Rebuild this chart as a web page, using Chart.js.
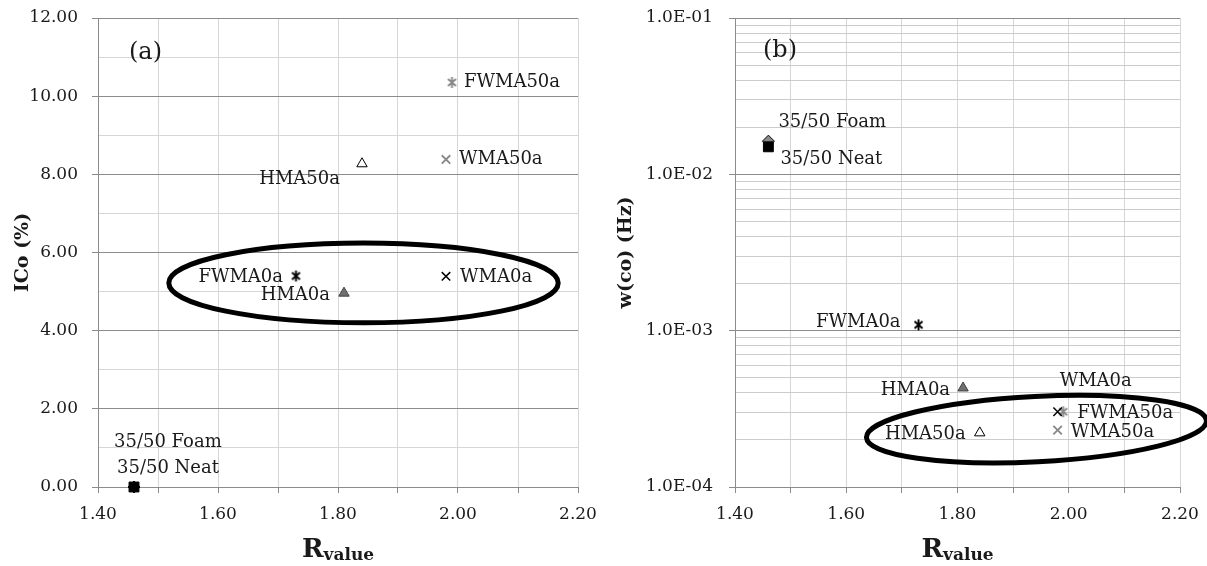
<!DOCTYPE html>
<html>
<head>
<meta charset="utf-8">
<script src="https://cdn.jsdelivr.net/npm/chart.js"></script>
<style>
    html, body { margin: 0; padding: 0; background: #fff; }
    #wrap { position: relative; width: 1207px; height: 566px; }
    #chartA { position: absolute; left: 0; top: 0; }
    #chartB { position: absolute; left: 603px; top: 0; }
</style>
</head>
<body>
<div id="wrap">
    <canvas id="chartA" width="603" height="566"></canvas>
    <canvas id="chartB" width="604" height="566"></canvas>
</div>
<script>
// values
const mixes = ['35/50 Neat', '35/50 Foam', 'HMA0a', 'HMA50a', 'WMA0a', 'WMA50a', 'FWMA0a', 'FWMA50a'];
const rValue = [1.46, 1.46, 1.81, 1.84, 1.98, 1.98, 1.73, 1.99];
const icoPct = [0, 0, 4.96, 8.27, 5.39, 8.38, 5.40, 10.35];
const wcoHz = [0.0150, 0.0163, 0.00043, 0.000222, 0.000303, 0.000231, 0.00109, 0.000303];

const xTicks = [1.40, 1.60, 1.80, 2.00, 2.20];
const icoTicks = [0, 2, 4, 6, 8, 10, 12];
const wcoTicks = [1e-4, 1e-3, 1e-2, 1e-1];

const serif = '"DejaVu Serif", "Liberation Serif", serif';
const ink = '#1a1a1a';
const majorGrid = '#8c8c8c';
const minorGrid = '#d6d6d6';

function starMark(color) {
    const c = document.createElement('canvas');
    c.width = 13;
    c.height = 13;
    const g = c.getContext('2d');
    g.strokeStyle = color;
    g.lineWidth = 1.9;
    g.beginPath();
    g.moveTo(2.5, 3); g.lineTo(10.5, 10);
    g.moveTo(10.5, 3); g.lineTo(2.5, 10);
    g.moveTo(6.5, 1); g.lineTo(6.5, 12);
    g.stroke();
    return c;
}

const markers = {
    '35/50 Neat': { pointStyle: 'rect', pointRadius: 7, pointBackgroundColor: '#000', pointBorderColor: '#000' },
    '35/50 Foam': { pointStyle: 'rectRot', pointRadius: 6, pointBackgroundColor: '#8a8a8a', pointBorderColor: '#000' },
    'HMA0a': { pointStyle: 'triangle', pointRadius: 6, pointBackgroundColor: '#707070', pointBorderColor: '#404040' },
    'HMA50a': { pointStyle: 'triangle', pointRadius: 6, pointBackgroundColor: '#fff', pointBorderColor: '#000' },
    'WMA0a': { pointStyle: 'crossRot', pointRadius: 6, pointBackgroundColor: '#000', pointBorderColor: '#000', pointBorderWidth: 1.5 },
    'WMA50a': { pointStyle: 'crossRot', pointRadius: 6, pointBackgroundColor: '#888', pointBorderColor: '#888', pointBorderWidth: 1.8 },
    'FWMA0a': { pointStyle: starMark('#000') },
    'FWMA50a': { pointStyle: starMark('#888') }
};

function sci(v) {
    const e = Math.round(Math.log10(v));
    const m = v / Math.pow(10, e);
    return m.toFixed(1) + 'E' + (e < 0 ? '-' : '+') + String(Math.abs(e)).padStart(2, '0');
}

function buildSets(yValues) {
    return mixes.map((name, i) => Object.assign({
        label: name,
        data: [{ x: rValue[i], y: yValues[i] }],
        clip: false,
        pointBorderWidth: 1,
        pointRadius: 6
    }, markers[name]));
}

// labels, ellipse, panel letter and R(value) title
function overlay(cfg) {
    return {
        id: 'overlay',
        afterDatasetsDraw(chart) {
            const ctx = chart.ctx;
            const area = chart.chartArea;
            const sx = chart.scales.x, sy = chart.scales.y;
            ctx.save();

            ctx.font = '18px ' + serif;
            ctx.fillStyle = ink;
            ctx.textBaseline = 'middle';
            chart.data.datasets.forEach((ds, i) => {
                const p = chart.getDatasetMeta(i).data[0];
                const t = cfg.place[ds.label];
                ctx.textAlign = t[2];
                ctx.fillText(ds.label, p.x + t[0], p.y + t[1]);
            });

            const e = cfg.ellipse;
            const x0 = sx.getPixelForValue(e.x0), x1 = sx.getPixelForValue(e.x1);
            const y0 = sy.getPixelForValue(e.y0), y1 = sy.getPixelForValue(e.y1);
            ctx.translate((x0 + x1) / 2, (y0 + y1) / 2);
            ctx.rotate(e.rot);
            ctx.beginPath();
            ctx.ellipse(0, 0, Math.abs(x1 - x0) / 2, Math.abs(y1 - y0) / 2, 0, 0, Math.PI * 2);
            ctx.lineWidth = 5;
            ctx.strokeStyle = '#000';
            ctx.stroke();
            ctx.setTransform(1, 0, 0, 1, 0, 0);

            ctx.font = '24px ' + serif;
            ctx.textAlign = 'left';
            ctx.fillText(cfg.letter, area.left + cfg.letterAt[0], area.top + cfg.letterAt[1]);

            ctx.textBaseline = 'alphabetic';
            ctx.font = 'bold 26px ' + serif;
            const wR = ctx.measureText('R').width;
            ctx.font = 'bold 17px ' + serif;
            const wV = ctx.measureText('value').width;
            const start = (area.left + area.right) / 2 - (wR + wV) / 2;
            ctx.font = 'bold 26px ' + serif;
            ctx.fillText('R', start, area.bottom + 70);
            ctx.font = 'bold 17px ' + serif;
            ctx.fillText('value', start + wR, area.bottom + 73);
            ctx.restore();
        }
    };
}

function xScale() {
    return {
        type: 'linear',
        min: 1.4,
        max: 2.2,
        afterFit: s => {
            s.height = 79;
            s.paddingLeft = 0;
            s.paddingRight = 0;
        },
        ticks: {
            stepSize: 0.1,
            padding: 11,
            color: ink,
            font: { family: serif, size: 17 },
            callback: v => xTicks.some(t => Math.abs(t - v) < 1e-6) ? v.toFixed(2) : ''
        },
        grid: { color: minorGrid, tickColor: majorGrid, tickLength: 6 },
        border: { color: majorGrid },
        title: { display: false }
    };
}

function fitY(w) {
    return s => {
        s.width = w;
        s.paddingTop = 0;
        s.paddingBottom = 0;
    };
}

const chartA = new Chart(document.getElementById('chartA'), {
    type: 'scatter',
    data: { datasets: buildSets(icoPct) },
    options: {
        responsive: false,
        animation: false,
        layout: { padding: { top: 18, right: 25, bottom: 0, left: 0 } },
        plugins: { legend: { display: false }, tooltip: { enabled: false } },
        scales: {
            x: xScale(),
            y: {
                type: 'linear',
                min: 0,
                max: 12,
                afterFit: fitY(98),
                ticks: {
                    stepSize: 1,
                    padding: 14,
                    color: ink,
                    font: { family: serif, size: 17 },
                    callback: v => icoTicks.includes(v) ? v.toFixed(2) : ''
                },
                grid: {
                    color: c => (c.tick && icoTicks.includes(c.tick.value)) ? majorGrid : minorGrid,
                    tickColor: c => (c.tick && icoTicks.includes(c.tick.value)) ? majorGrid : 'rgba(0,0,0,0)',
                    tickLength: 6
                },
                border: { color: majorGrid },
                title: {
                    display: true,
                    text: 'ICo (%)',
                    color: ink,
                    padding: { top: 12, bottom: 0 },
                    font: { family: serif, size: 19, weight: 'bold' }
                }
            }
        }
    },
    plugins: [overlay({
        letter: '(a)',
        letterAt: [31, 35],
        ellipse: { x0: 1.518, x1: 2.167, y0: 4.20, y1: 6.24, rot: 0 },
        place: {
            '35/50 Neat': [-17, -19, 'left'],
            '35/50 Foam': [-20, -45, 'left'],
            'HMA0a': [-14, 2, 'right'],
            'HMA50a': [-22, 16, 'right'],
            'WMA0a': [14, 1, 'left'],
            'WMA50a': [13, 0, 'left'],
            'FWMA0a': [-13, 1, 'right'],
            'FWMA50a': [12, 0, 'left']
        }
    })]
});

const chartB = new Chart(document.getElementById('chartB'), {
    type: 'scatter',
    data: { datasets: buildSets(wcoHz) },
    options: {
        responsive: false,
        animation: false,
        layout: { padding: { top: 18, right: 27, bottom: 0, left: 0 } },
        plugins: { legend: { display: false }, tooltip: { enabled: false } },
        scales: {
            x: xScale(),
            y: {
                type: 'logarithmic',
                min: 1e-4,
                max: 1e-1,
                afterFit: fitY(132),
                afterBuildTicks: s => {
                    const list = [];
                    wcoTicks.forEach((d, i) => {
                        if (i === wcoTicks.length - 1) { list.push({ value: d }); return; }
                        for (let m = 1; m < 10; m++) list.push({ value: m * d });
                    });
                    s.ticks = list;
                },
                ticks: {
                    autoSkip: false,
                    padding: 16,
                    color: ink,
                    font: { family: serif, size: 17 },
                    callback: v => wcoTicks.some(t => Math.abs(Math.log10(t) - Math.log10(v)) < 1e-6) ? sci(v) : ''
                },
                grid: {
                    color: c => (c.tick && wcoTicks.some(t => Math.abs(Math.log10(t) - Math.log10(c.tick.value)) < 1e-6)) ? majorGrid : '#cbcbcb',
                    tickColor: c => (c.tick && wcoTicks.some(t => Math.abs(Math.log10(t) - Math.log10(c.tick.value)) < 1e-6)) ? majorGrid : 'rgba(0,0,0,0)',
                    tickLength: 6
                },
                border: { color: majorGrid },
                title: {
                    display: true,
                    text: 'w(co) (Hz)',
                    color: ink,
                    padding: { top: 12, bottom: 0 },
                    font: { family: serif, size: 19, weight: 'bold' }
                }
            }
        }
    },
    plugins: [overlay({
        letter: '(b)',
        letterAt: [28, 33],
        ellipse: { x0: 1.636, x1: 2.248, y0: 1.45e-4, y1: 3.8e-4, rot: -0.05 },
        place: {
            '35/50 Neat': [12, 13, 'left'],
            '35/50 Foam': [10, -19, 'left'],
            'HMA0a': [-13, 2, 'right'],
            'HMA50a': [-14, 1, 'right'],
            'WMA0a': [2, -30, 'left'],
            'WMA50a': [13, 2, 'left'],
            'FWMA0a': [-18, -2, 'right'],
            'FWMA50a': [14, 2, 'left']
        }
    })]
});
</script>
</body>
</html>
